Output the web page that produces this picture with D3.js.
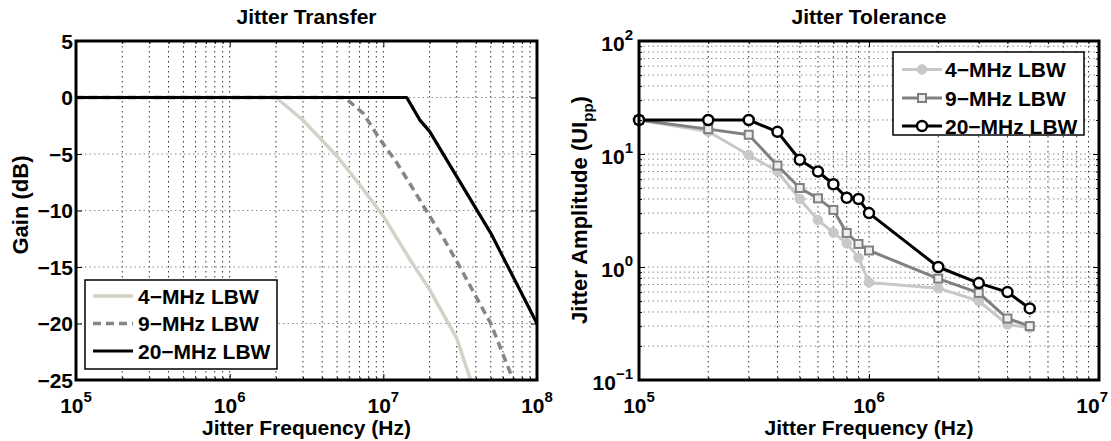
<!DOCTYPE html>
<html><head><meta charset="utf-8">
<script src="https://cdn.jsdelivr.net/npm/d3@7"></script>
<style>
html,body{margin:0;padding:0;background:#fff;}
svg{display:block;}
text{font-family:"Liberation Sans",Arial,Helvetica,sans-serif;font-weight:bold;fill:#000;}
</style></head><body>
<svg id="chart" width="1111" height="441"></svg>
<script>
// ---------------- data ----------------
const seriesNames = ["4\u2212MHz LBW", "9\u2212MHz LBW", "20\u2212MHz LBW"];

// Jitter transfer (gain in dB vs frequency in Hz)
const transfer4Freq = [1e5, 2e6, 3e6, 4e6, 5e6, 7e6, 1e7, 1.5e7, 2e7, 3e7, 3.7e7];
const transfer4Gain = [0, 0, -2, -3.8, -5.2, -7.7, -10.5, -14.4, -17, -21.3, -25];
const transfer9Freq = [1e5, 5.6e6, 7.4e6, 9.5e6, 1.2e7, 1.5e7, 1.9e7, 2.5e7, 3.15e7, 4e7, 5e7, 7e7];
const transfer9Gain = [0, 0, -1.4, -3.7, -5.6, -7.7, -10, -12.6, -15, -17.6, -20, -25];
const transfer20Freq = [1e5, 1.42e7, 1.73e7, 2e7, 5e7, 1e8];
const transfer20Gain = [0, 0, -2, -3, -12, -20];
const transferYTicks = [5, 0, -5, -10, -15, -20, -25];
const transferXExps = [5, 6, 7, 8];

// Jitter tolerance (UIpp vs frequency in Hz)
const toleranceFreq = [1e5, 2e5, 3e5, 4e5, 5e5, 6e5, 7e5, 8e5, 9e5, 1e6, 2e6, 3e6, 4e6, 5e6];
const tolerance4 = [20, 15.8, 9.8, 7.0, 4.0, 2.6, 2.02, 1.62, 1.21, 0.73, 0.65, 0.5, 0.31, 0.29];
const tolerance9 = [20, 16.6, 14.8, 7.9, 5.0, 4.05, 3.2, 2.0, 1.6, 1.4, 0.79, 0.59, 0.35, 0.30];
const tolerance20 = [20, 20, 20, 15.7, 8.9, 7.0, 5.4, 4.1, 4.0, 3.0, 1.0, 0.72, 0.6, 0.43];
const toleranceXExps = [5, 6, 7];
const toleranceYExps = [-1, 0, 1, 2];

// ---------------- layout ----------------
const svg = d3.select("#chart");
svg.append("rect").attr("width", 1111).attr("height", 441).attr("fill", "#fff");
const L = {x0: 76, x1: 537, y0: 41, y1: 380};
const R = {x0: 639, x1: 1099, y0: 41, y1: 380};
const FS = 21;      // tick labels / legend / titles
const FX = 21;      // x axis labels
const FY = 22;      // y axis labels

const xT = d3.scaleLog().domain([1e5, 1e8]).range([L.x0, L.x1]);
const yT = d3.scaleLinear().domain([-25, 5]).range([L.y1, L.y0]);
const xJ = d3.scaleLog().domain([1e5, 1e7]).range([R.x0, R.x1]);
const yJ = d3.scaleLog().domain([1e-1, 1e2]).range([R.y1, R.y0]);

function minors(e0, e1) {
  const out = [];
  for (let e = e0; e < e1; e++) for (let k = 2; k <= 9; k++) out.push(k * Math.pow(10, e));
  return out;
}
const minus = s => String(s).replace("-", "\u2212");

function expLabel(sel, e) {
  sel.append("tspan").text("10");
  sel.append("tspan").attr("dy", -11).attr("font-size", 15).text(minus(e));
}

function gridV(g, scale, vals, box, color) {
  g.selectAll(null).data(vals).join("line")
    .attr("x1", d => scale(d)).attr("x2", d => scale(d))
    .attr("y1", box.y0).attr("y2", box.y1)
    .attr("stroke", color).attr("stroke-width", 1).attr("stroke-dasharray", "1.5,3.5");
}
function gridH(g, scale, vals, box, color) {
  g.selectAll(null).data(vals).join("line")
    .attr("y1", d => scale(d)).attr("y2", d => scale(d))
    .attr("x1", box.x0).attr("x2", box.x1)
    .attr("stroke", color).attr("stroke-width", 1).attr("stroke-dasharray", "1.5,3");
}
function axisTicks(g, box, xs, xMaj, xMin, ys, yMaj, yMin) {
  const clean = a => a.call(s => s.select(".domain").remove())
    .call(s => s.selectAll(".tick line").attr("stroke", "#000").attr("stroke-width", 1));
  const add = (axis, tr) => g.append("g").attr("transform", tr).call(axis).call(clean);
  add(d3.axisBottom(xs).tickValues(xMaj).tickSize(-6).tickFormat(""), `translate(0,${box.y1})`);
  add(d3.axisTop(xs).tickValues(xMaj).tickSize(-6).tickFormat(""), `translate(0,${box.y0})`);
  add(d3.axisLeft(ys).tickValues(yMaj).tickSize(-6).tickFormat(""), `translate(${box.x0},0)`);
  add(d3.axisRight(ys).tickValues(yMaj).tickSize(-6).tickFormat(""), `translate(${box.x1},0)`);
  if (xMin.length) {
    add(d3.axisBottom(xs).tickValues(xMin).tickSize(-3).tickFormat(""), `translate(0,${box.y1})`);
    add(d3.axisTop(xs).tickValues(xMin).tickSize(-3).tickFormat(""), `translate(0,${box.y0})`);
  }
  if (yMin.length) {
    add(d3.axisLeft(ys).tickValues(yMin).tickSize(-3).tickFormat(""), `translate(${box.x0},0)`);
    add(d3.axisRight(ys).tickValues(yMin).tickSize(-3).tickFormat(""), `translate(${box.x1},0)`);
  }
}

// ================= LEFT: Jitter Transfer =================
const gL = svg.append("g");
const tMaj = transferXExps.map(e => Math.pow(10, e));
const tMin = minors(5, 8);
gridV(gL, xT, tMin.concat(tMaj.slice(1, -1)), L, "#333");
gridH(gL, yT, transferYTicks.slice(1, -1), L, "#8a8a8a");

svg.append("clipPath").attr("id", "clipL").append("rect")
  .attr("x", L.x0).attr("y", L.y0).attr("width", L.x1 - L.x0).attr("height", L.y1 - L.y0);

const lineT = d3.line().x(d => xT(d[0])).y(d => yT(d[1]));
const tSeries = [
  {f: transfer4Freq, g: transfer4Gain, color: "#d5d1c9", dash: null, w: 3.5},
  {f: transfer9Freq, g: transfer9Gain, color: "#858585", dash: "8,5", w: 3.5},
  {f: transfer20Freq, g: transfer20Gain, color: "#000", dash: null, w: 3.2}
];
const gLines = gL.append("g").attr("clip-path", "url(#clipL)");
tSeries.forEach(s => {
  gLines.append("path").datum(s.f.map((f, i) => [f, s.g[i]]))
    .attr("d", lineT).attr("fill", "none").attr("stroke", s.color)
    .attr("stroke-width", s.w).attr("stroke-dasharray", s.dash)
    .attr("stroke-linejoin", "round");
});

axisTicks(gL, L, xT, tMaj, tMin, yT, transferYTicks, []);
gL.append("rect").attr("x", L.x0).attr("y", L.y0).attr("width", L.x1 - L.x0).attr("height", L.y1 - L.y0)
  .attr("fill", "none").attr("stroke", "#000").attr("stroke-width", 3);

// tick labels
gL.selectAll(null).data(transferYTicks).join("text")
  .attr("x", L.x0 - 3).attr("y", d => yT(d) + 7.5).attr("text-anchor", "end")
  .attr("font-size", FS).text(d => minus(d));
transferXExps.forEach(e => {
  gL.append("text").attr("x", xT(Math.pow(10, e))).attr("y", 413)
    .attr("text-anchor", "middle").attr("font-size", FS).call(expLabel, e);
});
gL.append("text").attr("x", (L.x0 + L.x1) / 2).attr("y", 24).attr("text-anchor", "middle")
  .attr("font-size", FS).text("Jitter Transfer");
gL.append("text").attr("x", (L.x0 + L.x1) / 2).attr("y", 435).attr("text-anchor", "middle")
  .attr("font-size", FX).text("Jitter Frequency (Hz)");
gL.append("text").attr("transform", "translate(28,205) rotate(-90)").attr("text-anchor", "middle")
  .attr("font-size", FY).text("Gain (dB)");

// legend
const legL = gL.append("g");
legL.append("rect").attr("x", 85).attr("y", 280).attr("width", 192).attr("height", 89)
  .attr("fill", "#fff").attr("stroke", "#000").attr("stroke-width", 1.5);
const legLRows = [296, 323.5, 351];
tSeries.forEach((s, i) => {
  legL.append("line").attr("x1", 93).attr("x2", 133).attr("y1", legLRows[i]).attr("y2", legLRows[i])
    .attr("stroke", s.color).attr("stroke-width", s.w).attr("stroke-dasharray", s.dash);
  legL.append("text").attr("x", 138).attr("y", legLRows[i] + 7.5).attr("font-size", FS).text(seriesNames[i]);
});

// ================= RIGHT: Jitter Tolerance =================
const gR = svg.append("g");
const jxMaj = toleranceXExps.map(e => Math.pow(10, e));
const jxMin = minors(5, 7);
const jyMaj = toleranceYExps.map(e => Math.pow(10, e));
const jyMin = minors(-1, 2);
gridV(gR, xJ, jxMin.concat(jxMaj.slice(1, -1)), R, "#333");
gridH(gR, yJ, jyMin.concat(jyMaj.slice(1, -1)), R, "#8a8a8a");

const lineJ = d3.line().x(d => xJ(d[0])).y(d => yJ(d[1]));
const jSeries = [
  {v: tolerance4, color: "#c8c8c8", marker: "dot"},
  {v: tolerance9, color: "#808080", marker: "square"},
  {v: tolerance20, color: "#000", marker: "ring"}
];
function drawMarker(g, type, color, cx, cy) {
  if (type === "dot") {
    g.append("circle").attr("cx", cx).attr("cy", cy).attr("r", 4.8).attr("fill", color).attr("stroke", color);
  } else if (type === "square") {
    g.append("rect").attr("x", cx - 4).attr("y", cy - 4).attr("width", 8).attr("height", 8)
      .attr("fill", "#eee").attr("stroke", color).attr("stroke-width", 2);
  } else {
    g.append("circle").attr("cx", cx).attr("cy", cy).attr("r", 5).attr("fill", "#fff")
      .attr("stroke", color).attr("stroke-width", 2.5);
  }
}
jSeries.forEach(s => {
  const pts = toleranceFreq.map((f, i) => [f, s.v[i]]);
  gR.append("path").datum(pts).attr("d", lineJ).attr("fill", "none")
    .attr("stroke", s.color).attr("stroke-width", 3).attr("stroke-linejoin", "round");
  const gm = gR.append("g");
  pts.forEach(p => drawMarker(gm, s.marker, s.color, xJ(p[0]), yJ(p[1])));
});

axisTicks(gR, R, xJ, jxMaj, jxMin, yJ, jyMaj, jyMin);
gR.append("rect").attr("x", R.x0).attr("y", R.y0).attr("width", R.x1 - R.x0).attr("height", R.y1 - R.y0)
  .attr("fill", "none").attr("stroke", "#000").attr("stroke-width", 3);

toleranceYExps.forEach(e => {
  gR.append("text").attr("x", R.x0 - 6).attr("y", yJ(Math.pow(10, e)) + 10)
    .attr("text-anchor", "end").attr("font-size", FS).call(expLabel, e);
});
toleranceXExps.forEach(e => {
  const t = gR.append("text").attr("x", xJ(Math.pow(10, e))).attr("y", 413)
    .attr("text-anchor", "middle").attr("font-size", FS).call(expLabel, e);
  const bb = t.node().getBBox();
  if (bb.x + bb.width > 1108) t.attr("x", +t.attr("x") - (bb.x + bb.width - 1108));
});
gR.append("text").attr("x", (R.x0 + R.x1) / 2).attr("y", 24).attr("text-anchor", "middle")
  .attr("font-size", FS).text("Jitter Tolerance");
gR.append("text").attr("x", (R.x0 + R.x1) / 2).attr("y", 435).attr("text-anchor", "middle")
  .attr("font-size", FX).text("Jitter Frequency (Hz)");
const yl = gR.append("text").attr("transform", "translate(587,210) rotate(-90)")
  .attr("text-anchor", "middle").attr("font-size", FY);
yl.append("tspan").text("Jitter Amplitude (UI");
yl.append("tspan").attr("dy", 6).attr("font-size", 15).text("pp");
yl.append("tspan").attr("dy", -6).text(")");

// legend
const legR = gR.append("g");
legR.append("rect").attr("x", 893).attr("y", 52).attr("width", 191).attr("height", 83)
  .attr("fill", "#fff").attr("stroke", "#000").attr("stroke-width", 1.5);
const legRRows = [69.5, 98, 126];
jSeries.forEach((s, i) => {
  legR.append("line").attr("x1", 902).attr("x2", 942).attr("y1", legRRows[i]).attr("y2", legRRows[i])
    .attr("stroke", s.color).attr("stroke-width", 3);
  drawMarker(legR, s.marker, s.color, 922, legRRows[i]);
  legR.append("text").attr("x", 945).attr("y", legRRows[i] + 7.5).attr("font-size", FS).text(seriesNames[i]);
});
</script>
</body></html>
